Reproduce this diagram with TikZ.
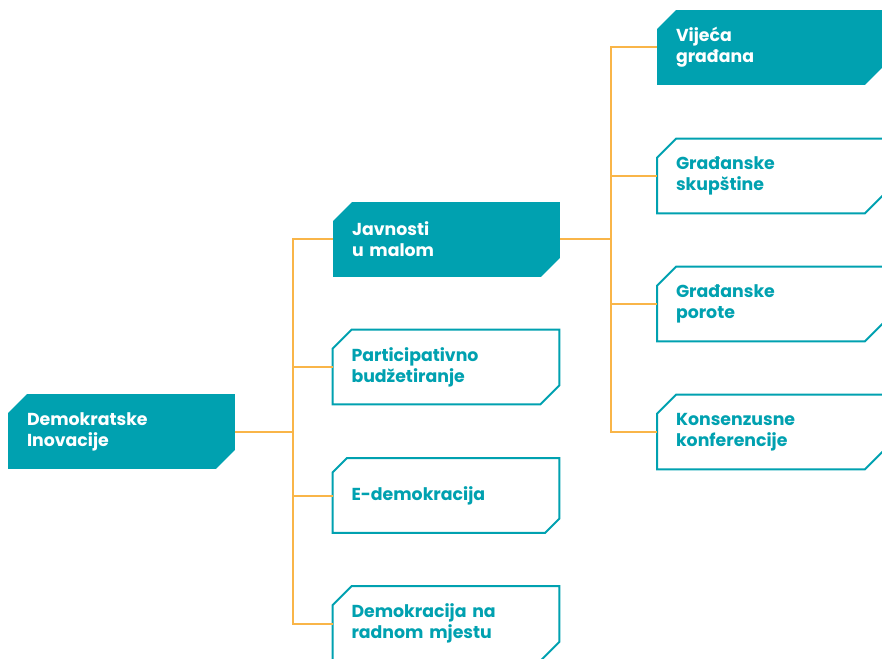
\documentclass[tikz,border=0pt]{standalone}
\usepackage{fontspec}
\setmainfont{Poppins}
\usetikzlibrary{shapes.misc}
\definecolor{tealbox}{RGB}{0,161,176}
\definecolor{orangeline}{RGB}{249,181,72}
\tikzset{
  cutbox/.style={chamfered rectangle, chamfered rectangle corners={north west,south east},
    chamfered rectangle xsep=10.5pt, chamfered rectangle angle=45,
    minimum width=170pt, minimum height=56pt, inner sep=0pt, outer sep=0pt,
    text width=141.75pt, align=left, font=\bfseries\fontsize{13}{15.75}\selectfont},
  filledbox/.style={cutbox, fill=tealbox, text=white},
  linebox/.style={cutbox, draw=tealbox, line width=1.5pt, fill=white, text=tealbox},
  link/.style={draw=orangeline, line width=1.5pt}
}
\begin{document}
\begin{tikzpicture}[x=0.75pt,y=-0.75pt]
  % Draw page frame
  \useasboundingbox (0,0) rectangle (882,659);
  % Draw root
  \node[filledbox] (demo) at (121.5,431.5) {Demokratske\\Inovacije};
  % Draw middle column
  \node[filledbox] (javn) at (446.5,239.5) {Javnosti\\u malom};
  \node[linebox] (part) at (446,367) {Participativno\\budžetiranje};
  \node[linebox] (edem) at (446,495.5) {E-demokracija};
  \node[linebox] (radn) at (446,623.5) {Demokracija na\\radnom mjestu};
  % Draw right column
  \node[filledbox] (vije) at (770.5,47.5) {Vijeća\\građana};
  \node[linebox] (skup) at (770.5,176) {Građanske\\skupštine};
  \node[linebox] (poro) at (770.5,304) {Građanske\\porote};
  \node[linebox] (konf) at (770.5,432) {Konsenzusne\\konferencije};
  % Draw connectors
  \coordinate (forkA) at (293,431.5);
  \coordinate (forkB) at (611,239.5);
  \draw[link] (demo.east) -- (forkA);
  \foreach \n in {javn,part,edem,radn}
    \draw[link] (forkA) |- (\n.west);
  \draw[link] (javn.east) -- (forkB);
  \foreach \n in {vije,skup,poro,konf}
    \draw[link] (forkB) |- (\n.west);
\end{tikzpicture}
\end{document}
